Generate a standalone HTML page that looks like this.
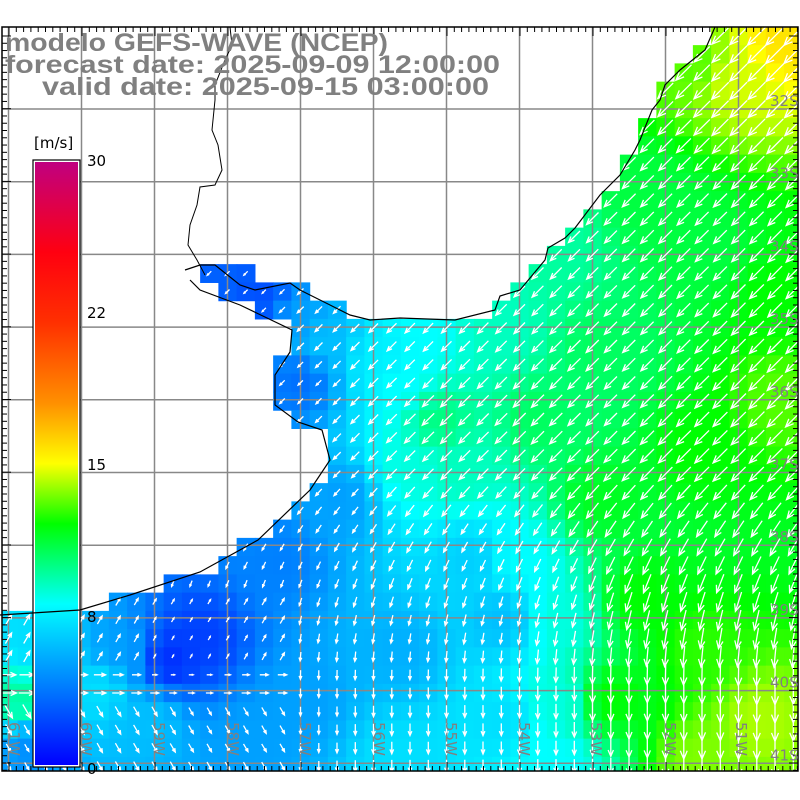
<!DOCTYPE html>
<html><head><meta charset="utf-8"><style>
html,body{margin:0;padding:0;background:#fff;width:800px;height:800px;overflow:hidden}
svg{display:block}
</style></head><body>
<svg id="s" width="800" height="800" xmlns="http://www.w3.org/2000/svg">
<defs>
<linearGradient id="cb" x1="0" y1="1" x2="0" y2="0">
<stop offset="0" stop-color="#0000ff"/>
<stop offset="0.133" stop-color="#0080ff"/>
<stop offset="0.267" stop-color="#00ffff"/>
<stop offset="0.4" stop-color="#00ff00"/>
<stop offset="0.5" stop-color="#ffff00"/>
<stop offset="0.6" stop-color="#ff9000"/>
<stop offset="0.733" stop-color="#ff3000"/>
<stop offset="0.85" stop-color="#ff0010"/>
<stop offset="1" stop-color="#c00080"/>
</linearGradient>
<clipPath id="frame"><rect x="2" y="27" width="796" height="744"/></clipPath>
</defs>
<g id="cells" clip-path="url(#frame)"></g>
<g id="grid" stroke="#888" stroke-width="1.5" fill="none"></g>
<g id="arrows" stroke="#fff" stroke-width="1.3" fill="none" clip-path="url(#frame)"></g>
<polyline id="coast" fill="none" stroke="#000" stroke-width="1.2"/>
<polyline fill="none" stroke="#000" stroke-width="1" points="230,27 232,45 225,60 215,85 215,100 212,130 218,145 222,170 215,185 200,187 197,205 190,225 188,245 197,260 205,275"/>
<g id="ticks" stroke="#000" stroke-width="1"></g>
<rect x="2" y="27" width="796" height="744" fill="none" stroke="#000" stroke-width="1.5"/>
<g font-family="Liberation Sans, sans-serif" font-weight="bold" font-size="25" fill="#808080">
<text x="5" y="51" textLength="383" lengthAdjust="spacingAndGlyphs">modelo GEFS-WAVE (NCEP)</text>
<text x="5" y="73" textLength="495" lengthAdjust="spacingAndGlyphs">forecast date: 2025-09-09 12:00:00</text>
<text x="42" y="95" textLength="447" lengthAdjust="spacingAndGlyphs">valid date: 2025-09-15 03:00:00</text>
</g>
<g id="labs" font-family="DejaVu Sans, sans-serif" font-size="15" fill="#808080"></g>
<rect x="33" y="160" width="47" height="607" fill="#fff" stroke="#000" stroke-width="1.2"/>
<rect x="35" y="162" width="43" height="603" fill="url(#cb)"/>
<g font-family="DejaVu Sans, sans-serif" font-size="15" fill="#000">
<text x="34" y="148">[m/s]</text>
<text x="87" y="166">30</text>
<text x="87" y="318">22</text>
<text x="87" y="470">15</text>
<text x="87" y="622">8</text>
<text x="87" y="774">0</text>
</g>
</svg>
<script>
const NS="http://www.w3.org/2000/svg";
function el(t,a,p){const e=document.createElementNS(NS,t);for(const k in a)e.setAttribute(k,a[k]);p.appendChild(e);return e;}
const sea=[[200,265],[215,265],[290,283],[330,305],[370,320],[455,320],[495,310],[520,290],[545,255],[565,238],[600,195],[620,175],[640,140],[652,110],[680,70],[705,50],[715,27],[800,27],[800,771],[0,771],[0,615],[80,610],[130,595],[200,572],[258,540],[310,490],[330,460],[322,430],[298,422],[275,405],[275,375],[290,352],[292,330],[240,305],[200,285]];
function inside(x,y){let c=false;for(let i=0,j=sea.length-1;i<sea.length;j=i++){const[xi,yi]=sea[i],[xj,yj]=sea[j];if(((yi>y)!=(yj>y))&&(x<(xj-xi)*(y-yi)/(yj-yi)+xi))c=!c;}return c;}
const pts=[[215,280,3],[260,295,2.5],[300,320,5],[320,340,6],[300,380,3.5],[380,360,7.5],[400,380,8],[440,420,10],[410,470,8.5],[460,470,9],[600,350,10.5],[700,250,11],[740,80,14.5],[785,40,16],[690,60,13],[650,200,11],[560,250,9.5],[340,500,5],[280,560,4],[200,640,2],[170,660,1.5],[120,650,5],[100,690,7],[30,640,7],[20,700,9.5],[30,750,4.5],[150,720,6],[300,700,5],[400,650,5.5],[500,620,6],[500,720,7],[560,700,8.5],[610,700,12],[700,650,12.5],[760,720,14],[700,760,13.5],[600,500,11.5],[520,560,8],[470,560,6.5],[700,450,12],[780,400,13],[780,300,12],[420,330,8],[500,330,9],[540,420,10.5],[640,600,12],[560,620,8.5],[250,740,5],[400,760,7],[560,760,8]];
function spd(x,y){let n=0,d=0;for(const p of pts){const w=1/Math.pow((p[0]-x)**2+(p[1]-y)**2+100,1.6);n+=w*p[2];d+=w;}return n/d;}
const cm=[[0,0,0,255],[4,0,128,255],[8,0,255,255],[12,0,255,0],[15,255,255,0],[19,255,144,0],[22,255,48,0],[25,255,0,16],[30,192,0,128]];
function col(s){for(let i=1;i<cm.length;i++){if(s<=cm[i][0]){const a=cm[i-1],b=cm[i],t=(s-a[0])/(b[0]-a[0]);return `rgb(${Math.round(a[1]+t*(b[1]-a[1]))},${Math.round(a[2]+t*(b[2]-a[2]))},${Math.round(a[3]+t*(b[3]-a[3]))})`;}}return "rgb(192,0,128)";}
const C=18.25,cg=document.getElementById('cells'),ag=document.getElementById('arrows');
for(let j=-2;j<45;j++)for(let i=-5;i<45;i++){const cx=81.5+(i)*C-4*C,cy=109+j*C-4*C;if(cx<-10||cx>810||cy<15||cy>790)continue;if(!inside(cx,cy))continue;const s=spd(cx,cy);
el('rect',{x:(cx-C/2).toFixed(2),y:(cy-C/2).toFixed(2),width:C+0.6,height:C+0.6,fill:col(s)},cg);
let ang;
const t=Math.min(1,Math.max(0,(cy-480)/200));ang=(135-45*t)*Math.PI/180;
if(cx<290&&cy>600&&cy<700){ang=-60*Math.PI/180;if(cy>660)ang=0;}
if(cx<300&&cy>=700)ang=60*Math.PI/180;
const L=Math.min(26,1+s*1.6),dx=Math.cos(ang),dy=Math.sin(ang);
const x1=cx-dx*L/2,y1=cy-dy*L/2,x2=cx+dx*L/2,y2=cy+dy*L/2,h=Math.min(9,L*0.4);
const a1=ang+Math.PI-0.4,a2=ang+Math.PI+0.4;
el('path',{d:`M${x1.toFixed(1)},${y1.toFixed(1)}L${x2.toFixed(1)},${y2.toFixed(1)}M${(x2+Math.cos(a1)*h).toFixed(1)},${(y2+Math.sin(a1)*h).toFixed(1)}L${x2.toFixed(1)},${y2.toFixed(1)}L${(x2+Math.cos(a2)*h).toFixed(1)},${(y2+Math.sin(a2)*h).toFixed(1)}`},ag);}
const gg=document.getElementById('grid');
for(let k=-1;k<11;k++){const x=81.5+k*73;el('line',{x1:x,y1:27,x2:x,y2:771},gg);}
for(let k=0;k<10;k++){const y=109+k*72.7;el('line',{x1:2,y1:y,x2:798,y2:y},gg);}
document.getElementById('coast').setAttribute('points',"185,270 200,265 215,265 240,285 255,290 290,283 300,290 330,305 350,315 370,320 400,318 455,320 495,310 500,296 520,290 545,260 548,248 565,238 575,228 600,195 620,175 635,150 640,140 652,110 660,100 665,85 680,70 705,50 715,27");
el('polyline',{points:"190,280 200,290 240,305 292,330 290,352 275,375 275,405 298,422 322,430 330,460 310,490 258,540 200,572 130,595 80,610 0,615",fill:"none",stroke:"#000","stroke-width":1.2},document.getElementById('s'));
const tg=document.getElementById('ticks');
for(let x=9;x<798;x+=7.3){const big=Math.abs(((x-81.5)/73)-Math.round((x-81.5)/73))<0.05;const l=big?9:5;el('line',{x1:x,y1:27,x2:x,y2:27+l},tg);el('line',{x1:x,y1:771,x2:x,y2:771-l},tg);}
for(let y=36;y<771;y+=7.27){const big=Math.abs(((y-109)/72.7)-Math.round((y-109)/72.7))<0.05;const l=big?9:5;el('line',{x1:2,y1:y,x2:2+l,y2:y},tg);el('line',{x1:798,y1:y,x2:798-l,y2:y},tg);}
const lg=document.getElementById('labs');
for(let k=0;k<10;k++){const t=el('text',{x:770,y:106+k*72.7},lg);t.textContent=(32+k)+"S";}
const lons=[15,87,160,234,306,380,452,525,597,671,742];
lons.forEach((x,k)=>{const t=el('text',{transform:`translate(${x-6},${722}) rotate(90)`},lg);t.textContent=(61-k)+"W";});
</script>
</body></html>
